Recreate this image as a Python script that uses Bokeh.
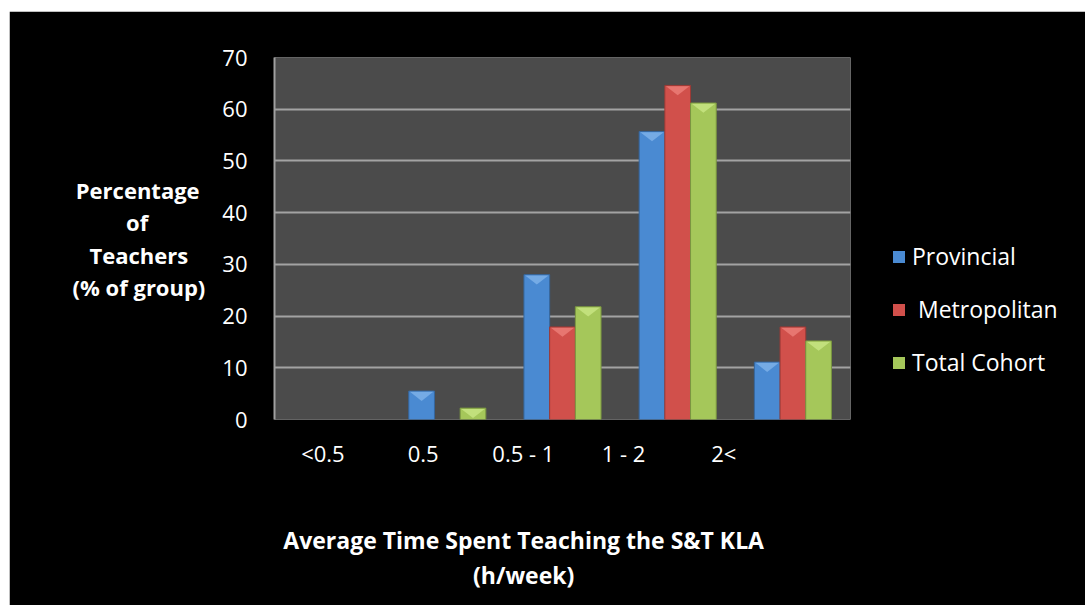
from bokeh.plotting import figure
from bokeh.models import Range1d, FixedTicker, Legend, LegendItem, ColumnDataSource, Spacer
from bokeh.layouts import column, row
from bokeh.embed import file_html
from bokeh.resources import INLINE

categories = ["<0.5", "0.5", "0.5 - 1", "1 - 2", "2<"]
provincial = [0, 5.5, 28.0, 55.7, 11.1]
metropolitan = [0, 0, 17.9, 64.6, 17.9]
total_cohort = [0, 2.2, 21.8, 61.2, 15.2]
series_names = ["Provincial", " Metropolitan", "Total Cohort"]
y_ticks = [0, 10, 20, 30, 40, 50, 60, 70]

FONT = "Open Sans"
NB = "\u00a0"
p = figure(frame_width=576, frame_height=362, output_backend="svg", toolbar_location=None,
           x_range=Range1d(0, len(categories)), y_range=Range1d(0, 70),
           min_border_left=265, min_border_right=235, min_border_top=46, min_border_bottom=186)
p.background_fill_color = "#4b4b4b"
p.border_fill_color = "black"
p.outline_line_color = None

colors = ["#4a8ad2", "#d1504b", "#a5c75a"]
edges = ["#36679e", "#9c3a36", "#7a9640"]
caps = ["#7fb3ea", "#ec7f79", "#c9e684"]
bar_w = 0.223
series = [provincial, metropolitan, total_cohort]
renderers = []
for k, vals in enumerate(series):
    xs = [i + 0.5 + (k - 1) * bar_w for i in range(len(categories))]
    src = ColumnDataSource(dict(x=xs, top=vals, la=[1.0 if v > 0 else 0.0 for v in vals]))
    r = p.vbar(x="x", top="top", bottom=0, width=bar_w, source=src,
               fill_color=colors[k], line_color=edges[k], line_alpha="la", line_width=1)
    renderers.append(r)
    cap_h = 1.9
    px, py = [], []
    for x, v in zip(xs, vals):
        if v > 0:
            px.append([x - bar_w / 2 + 0.01, x + bar_w / 2 - 0.01, x])
            py.append([v - 0.15, v - 0.15, v - cap_h])
    if px:
        p.patches(px, py, fill_color=caps[k], fill_alpha=0.8, line_color=None)

# y axis
yax = p.yaxis[0]
yax.ticker = FixedTicker(ticks=y_ticks)
yax.major_tick_line_color = None
yax.minor_tick_line_color = None
yax.axis_line_color = "#a0a0a0"
yax.axis_line_width = 2
yax.major_label_text_color = "white"
yax.major_label_text_font = FONT
yax.major_label_text_font_size = "22px"
yax.major_label_standoff = 21
yax.axis_label = "\n".join(["Percentage" + NB, "of" + NB * 10, "Teachers" + NB * 3, "(% of group)"])
yax.axis_label_text_color = "white"
yax.axis_label_text_font = FONT
yax.axis_label_text_font_style = "bold"
yax.axis_label_text_font_size = "22px"
yax.axis_label_text_line_height = 1.07
yax.axis_label_standoff = 14
if hasattr(yax, "axis_label_orientation"):
    yax.axis_label_orientation = "horizontal"

# x axis
label_pos = [0.42 + 0.87 * i for i in range(len(categories))]
xax = p.xaxis[0]
xax.ticker = FixedTicker(ticks=label_pos)
xax.major_label_overrides = {t: c for t, c in zip(label_pos, categories)}
xax.major_tick_line_color = None
xax.minor_tick_line_color = None
xax.axis_line_color = None
xax.major_label_text_color = "white"
xax.major_label_text_font = FONT
xax.major_label_text_font_size = "22px"
xax.major_label_standoff = 12
xax.axis_label = "\n".join(["Average Time Spent Teaching the S&T KLA" + NB * 13, "(h/week)" + NB * 13])
xax.axis_label_text_color = "white"
xax.axis_label_text_font = FONT
xax.axis_label_text_font_style = "bold"
xax.axis_label_text_font_size = "23px"
xax.axis_label_text_line_height = 1.12
xax.axis_label_standoff = 53

p.xgrid.grid_line_color = None
p.ygrid.ticker = FixedTicker(ticks=y_ticks)
p.ygrid.grid_line_color = "#a3a3a3"
p.ygrid.grid_line_width = 2

legend = Legend(items=[LegendItem(label=n, renderers=[r]) for n, r in zip(series_names, renderers)],
                location="bottom_left")
legend.background_fill_alpha = 0
legend.border_line_alpha = 0
legend.padding = 0
legend.margin = 41
legend.glyph_width = 15
legend.glyph_height = 15
legend.label_height = 31
legend.spacing = 21
legend.label_standoff = 6
legend.label_text_color = "white"
legend.label_text_font = FONT
legend.label_text_font_size = "23px"
legend.label_text_baseline = "middle"
p.add_layout(legend, "right")

layout = column(Spacer(height=11, width=1085),
                row(Spacer(width=9, height=594), p, spacing=0), spacing=0)
open("out.html", "w").write(file_html(layout, INLINE))
